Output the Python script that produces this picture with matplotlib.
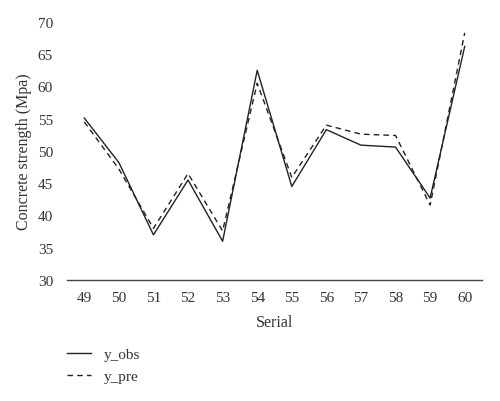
import matplotlib
matplotlib.use("Agg")
import matplotlib.pyplot as plt

serial = [49, 50, 51, 52, 53, 54, 55, 56, 57, 58, 59, 60]
y_obs = [55.1, 48.2, 37.0, 45.5, 36.0, 62.5, 44.5, 53.3, 50.9, 50.6, 42.7, 66.2]
y_pre = [54.5, 47.2, 38.0, 46.5, 37.6, 60.5, 45.9, 54.0, 52.6, 52.4, 41.6, 68.3]
yticks = [30, 35, 40, 45, 50, 55, 60, 65, 70]

plt.rcParams['font.family'] = ['Liberation Serif', 'DejaVu Serif']
txt = '#333333'

fig = plt.figure(figsize=(5.0, 4.02), dpi=100)
ax = fig.add_axes([0.134, 0.301, 0.830, 0.642])
l1, = ax.plot(serial, y_obs, color='#222222', lw=1.0, ls='-', label='y_obs')
l2, = ax.plot(serial, y_pre, color='#222222', lw=1.0, ls=(0, (4, 3)), label='y_pre')

ax.set_xlim(48.5, 60.5)
ax.set_ylim(30, 70)
ax.set_xticks(serial)
ax.set_yticks(yticks)
for s in ['top', 'right', 'left']:
    ax.spines[s].set_visible(False)
ax.spines['bottom'].set_color('#444444')
ax.spines['bottom'].set_linewidth(1.0)
ax.tick_params(axis='both', length=0, labelsize=11, colors=txt)
ax.tick_params(axis='x', pad=8)
ax.tick_params(axis='y', pad=10)
ax.set_xlabel('Serial', fontsize=11.5, color=txt, labelpad=7)
ax.set_ylabel('Concrete strength (Mpa)', fontsize=11.5, color=txt, labelpad=4)

fig.legend(handles=[l1, l2], loc='upper left', bbox_to_anchor=(0.106, 0.168),
           frameon=False, fontsize=11, handlelength=1.6, handletextpad=0.8,
           labelspacing=0.55, labelcolor=txt)

fig.savefig('out.png', dpi=100)
